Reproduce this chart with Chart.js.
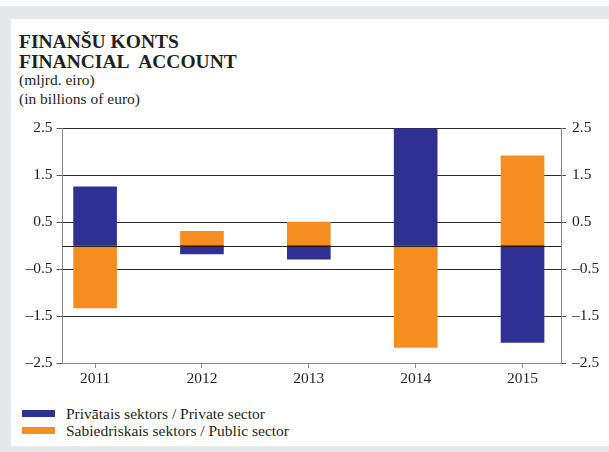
<!DOCTYPE html>
<html>
<head>
<meta charset="utf-8">
<script src="https://cdn.jsdelivr.net/npm/chart.js@4"></script>
<style>
  body { margin: 0; background: #fff; width: 609px; height: 452px; position: relative; overflow: hidden; font-family: "Liberation Serif", "Times New Roman", serif; color: #231f20; }
  .band { position: absolute; background: #e6e7e8; }
  #title { position: absolute; left: 19px; top: 32px; }
  #title .b { font-weight: bold; font-size: 19.5px; line-height: 19.5px; }
  #title .s { font-size: 15.5px; line-height: 18.5px; }
  #wrap { position: absolute; left: 0; top: 110px; width: 609px; height: 290px; }
  #legend { position: absolute; left: 22px; top: 405px; font-size: 15.5px; }
  #legend div { height: 17px; line-height: 17px; position: relative; padding-left: 44px; }
  #legend span { position: absolute; left: 0; top: 5px; width: 33px; height: 7px; }
</style>
</head>
<body>
<div class="band" style="left:0;top:6px;width:609px;height:13px"></div>
<div class="band" style="left:0;top:6px;width:11px;height:446px"></div>
<div class="band" style="left:0;top:446px;width:609px;height:6px"></div>

<div id="title">
  <div class="b">FINANŠU KONTS</div>
  <div class="b">FINANCIAL&nbsp; ACCOUNT</div>
  <div class="s">(mljrd. eiro)</div>
  <div class="s">(in billions of euro)</div>
</div>

<div id="wrap"><canvas id="chart1"></canvas></div>
<div id="legend"></div>

<script>
// data
const categories = ['2011', '2012', '2013', '2014', '2015'];
const privateSector = [1.25, -0.18, -0.29, 2.48, -2.06];
const publicSector = [-1.33, 0.3, 0.5, -2.17, 1.91];
const yTicks = [-2.5, -1.5, -0.5, 0.5, 1.5, 2.5];
const seriesNames = ['Privātais sektors / Private sector', 'Sabiedriskais sektors / Public sector'];
const colors = ['#2e3192', '#f68d21'];

const font = { family: '"Liberation Serif", "Times New Roman", serif', size: 15.5 };
const fmt = v => (v < 0 ? '\u2013' : '') + Math.abs(v).toFixed(1);

// zero line across the plot
const zeroLine = {
  id: 'zeroLine',
  afterDatasetsDraw(chart) {
    const { ctx, chartArea, scales } = chart;
    const y = Math.round(scales.y.getPixelForValue(0)) + 0.5;
    ctx.save();
    ctx.strokeStyle = '#231f20';
    ctx.lineWidth = 1.2;
    ctx.beginPath();
    ctx.moveTo(chartArea.left, y);
    ctx.lineTo(chartArea.right, y);
    ctx.stroke();
    ctx.restore();
  }
};

const ctx = document.getElementById('chart1');

new Chart(ctx, {
  type: 'bar',
  data: {
    datasets: [
      { label: seriesNames[0], data: privateSector.map((v, i) => ({ x: i, y: v })), backgroundColor: colors[0] },
      { label: seriesNames[1], data: publicSector.map((v, i) => ({ x: i, y: v })), backgroundColor: colors[1] }
    ]
  },
  options: {
    animation: false,
    responsive: true,
    maintainAspectRatio: false,
    barThickness: 43,
    layout: { padding: { top: 18, left: 0, right: 0, bottom: 0 } },
    plugins: { legend: { display: false }, tooltip: { enabled: false } },
    scales: {
      x: {
        type: 'linear',
        stacked: true,
        offset: false,
        min: -0.305,
        max: 4.36,
        afterBuildTicks: s => { s.ticks = categories.map((c, i) => ({ value: i })); },
        afterFit: s => { s.height = 37; },
        ticks: { callback: v => categories[v], color: '#231f20', font, padding: 2, autoSkip: false, maxRotation: 0 },
        grid: { offset: false, drawOnChartArea: false, tickLength: 5, tickColor: '#888' },
        border: { color: '#888', width: 1 }
      },
      y: {
        position: 'left',
        stacked: true,
        min: -2.5,
        max: 2.5,
        afterBuildTicks: s => { s.ticks = yTicks.map(v => ({ value: v })); },
        afterFit: s => { s.width = 62.5; },
        ticks: { callback: fmt, color: '#231f20', font, padding: 4 },
        grid: { color: '#2b2b2b', tickLength: 6, tickColor: '#555' },
        border: { color: '#888', width: 1 }
      },
      y2: {
        position: 'right',
        min: -2.5,
        max: 2.5,
        afterBuildTicks: s => { s.ticks = yTicks.map(v => ({ value: v })); },
        afterFit: s => { s.width = 48; },
        ticks: { callback: fmt, color: '#231f20', font, padding: 6 },
        grid: { drawOnChartArea: false, tickLength: 5, tickColor: '#555' },
        border: { color: '#888', width: 1 }
      }
    }
  },
  plugins: [zeroLine]
});

// legend
const lg = document.getElementById('legend');
seriesNames.forEach((n, i) => {
  const d = document.createElement('div');
  d.innerHTML = '<span style="background:' + colors[i] + '"></span>' + n;
  lg.appendChild(d);
});
</script>
</body>
</html>
